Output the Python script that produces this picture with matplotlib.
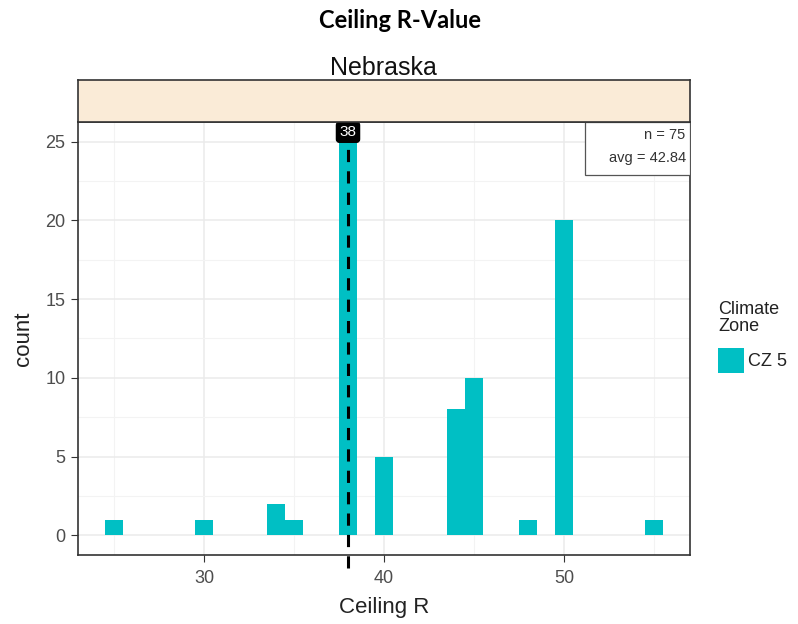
import matplotlib
matplotlib.use("Agg")
import matplotlib.pyplot as plt
from matplotlib.patches import Rectangle

plt.rcParams['font.family'] = ['Liberation Sans', 'DejaVu Sans']

# data
r_values = [25, 30, 34, 35, 38, 40, 44, 45, 48, 50, 55]
counts = [1, 1, 2, 1, 25, 5, 8, 10, 1, 20, 1]
median_r = 38
n_total = 75
avg_r = 42.84
x_ticks = [30, 40, 50]
y_ticks = [0, 5, 10, 15, 20, 25]
zone_labels = ["CZ 5"]

teal = "#00BFC4"
grey_txt = "#4D4D4D"

fig = plt.figure(figsize=(7.98, 6.24), dpi=100)
ax = fig.add_axes([78/798, 1-555/624, 612/798, 433/624])

ax.bar(r_values, counts, width=1.03, color=teal, zorder=2)
ax.set_xlim(23.0, 57.0)
ax.set_ylim(-1.25, 26.25)

ax.set_xticks(x_ticks)
ax.set_xticks([25, 35, 45, 55], minor=True)
ax.set_yticks(y_ticks)
ax.set_yticks([2.5, 7.5, 12.5, 17.5, 22.5], minor=True)
ax.grid(which="major", color="#EBEBEB", lw=1.1, zorder=0)
ax.grid(which="minor", color="#F3F3F3", lw=0.8, zorder=0)
ax.tick_params(which="major", length=5, color="#333333", labelcolor=grey_txt, labelsize=13)
ax.tick_params(axis="x", pad=6)
ax.tick_params(axis="y", pad=4)
ax.tick_params(which="minor", length=0)
for s in ax.spines.values():
    s.set_color("#333333")
    s.set_linewidth(1.2)

ax.set_xlabel("Ceiling R", fontsize=16, color="#222222", labelpad=7)
ax.set_ylabel("count", fontsize=16, color="#222222", labelpad=8)

# median line, runs below the panel edge
ax.plot([median_r, median_r], [-2.1, 25.3], ls=(0, (4, 3)), color="black", lw=2.2,
        clip_on=False, zorder=3)
ax.text(median_r, 25.6, str(median_r), ha="center", va="center", color="white", fontsize=11,
        bbox=dict(boxstyle="round,pad=0.2", fc="black", ec="black"), zorder=4)

# n / avg box
ax.add_patch(Rectangle((0.829, 0.878), 0.171, 0.122, transform=ax.transAxes,
                       fc="white", ec="#555555", lw=0.9, zorder=5))
ax.text(0.993, 0.985, f"n = {n_total}\navg = {avg_r:.2f}", transform=ax.transAxes,
        ha="right", va="top", fontsize=10.5, color="#333333", linespacing=1.75, zorder=6)

# strip
sax = fig.add_axes([78/798, 1-122/624, 612/798, 42/624])
sax.set_xticks([])
sax.set_yticks([])
sax.set_facecolor("#FAEBD7")
for s in sax.spines.values():
    s.set_color("#333333")
    s.set_linewidth(1.2)

fig.text(383/798, 1-68/624, "Nebraska", ha="center", va="center", fontsize=18, color="#111111")
fig.text(400/798, 1-21/624, "Ceiling R-Value", ha="center", va="center", fontsize=17,
         fontweight="bold", color="black", family=["Lato", "DejaVu Sans"])

# legend
fig.text(718/798, 1-318/624, "Climate\nZone", ha="left", va="center", fontsize=13,
         color="#222222", linespacing=0.95)
fig.patches.append(Rectangle((718/798, 1-373/624), 26/798, 25/624, transform=fig.transFigure,
                             fc=teal, ec="none"))
fig.text(748/798, 1-361/624, zone_labels[0], ha="left", va="center", fontsize=13, color="#222222")

fig.savefig("out.png", dpi=100, facecolor="white")
